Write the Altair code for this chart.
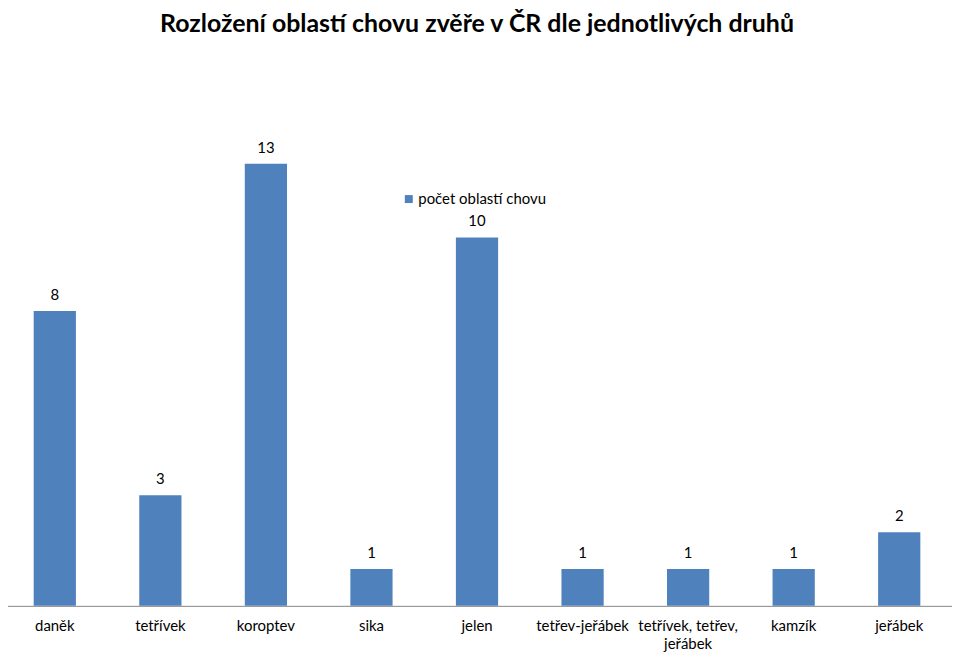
import altair as alt
import pandas as pd

categories = ["daněk", "tetřívek", "koroptev", "sika", "jelen", "tetřev-jeřábek",
              "tetřívek, tetřev,\njeřábek", "kamzík", "jeřábek"]
# bar heights as drawn in the picture
bar_values = [8, 3, 12, 1, 10, 1, 1, 1, 2]
# data labels as printed above the bars
label_texts = ["8", "3", "13", "1", "10", "1", "1", "1", "2"]
series_name = "počet oblastí chovu"

df = pd.DataFrame({"druh": categories, "hodnota": bar_values, "popisek": label_texts,
                   "serie": [series_name] * len(categories)})

FONT = "Lato"
BLUE = "#4F81BD"

x = alt.X("druh:N", sort=categories, title=None,
          scale=alt.Scale(paddingInner=0.6, paddingOuter=0.3),
          axis=alt.Axis(labelAngle=0, ticks=False, domainColor="#868686", domainWidth=1,
                        labelFont=FONT, labelFontSize=15, labelColor="#000000",
                        labelPadding=13, labelLineHeight=18, labelBaseline="top",
                        labelExpr="split(datum.value, '\\n')"))
y = alt.Y("hodnota:Q", scale=alt.Scale(domain=[0, 14], nice=False), axis=None)

bars = alt.Chart(df).mark_bar(color=BLUE).encode(
    x=x, y=y,
    color=alt.Color("serie:N", scale=alt.Scale(range=[BLUE]), title=None,
                    legend=alt.Legend(orient="none", legendX=401, legendY=102,
                                      symbolType="square", symbolSize=64,
                                      symbolStrokeWidth=0, labelFont=FONT,
                                      labelFontSize=15, labelColor="#000000",
                                      labelOffset=2)))

labels = alt.Chart(df).mark_text(font=FONT, fontSize=15, color="#000000",
                                 baseline="middle", dy=-16).encode(
    x=alt.X("druh:N", sort=categories), y="hodnota:Q", text="popisek:N")

chart = alt.layer(bars, labels).properties(
    width=954, height=518,
    autosize=alt.AutoSizeParams(type="none"),
    padding={"left": -6, "top": 81, "right": 0, "bottom": 50},
    title=alt.TitleParams("Rozložení oblastí chovu zvěře v ČR dle jednotlivých druhů",
                          font=FONT, fontSize=25, fontWeight="bold", color="#000000",
                          anchor="middle", offset=53),
).configure_view(stroke=None)

chart.save("out.html", embed_options={"renderer": "svg", "actions": False})
